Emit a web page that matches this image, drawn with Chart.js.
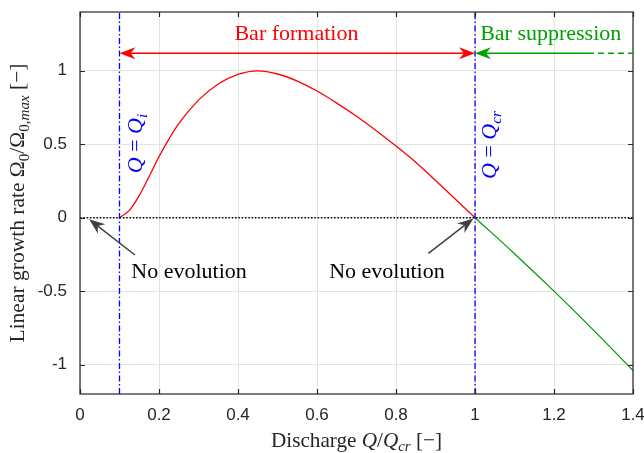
<!DOCTYPE html>
<html><head><meta charset="utf-8">
<script src="https://cdn.jsdelivr.net/npm/chart.js@4"></script>
<style>html,body{margin:0;padding:0;background:#fff}canvas{display:block}</style>
</head><body>
<canvas id="c" width="644" height="453"></canvas>
<script>
// ---- data ----
const formationX = [0.10, 0.125, 0.15, 0.175, 0.20, 0.225, 0.25, 0.30, 0.35, 0.40, 0.45, 0.50, 0.55, 0.60, 0.65, 0.70, 0.75, 0.80, 0.85, 0.90, 0.95, 1.00];
const formationY = [0.00, 0.05, 0.15, 0.28, 0.415, 0.535, 0.64, 0.80, 0.91, 0.975, 0.999, 0.978, 0.93, 0.862, 0.78, 0.69, 0.592, 0.488, 0.378, 0.253, 0.127, 0.00];
const suppressionX = [1.0, 1.1, 1.2, 1.3, 1.4];
const suppressionY = [0.0, -0.245, -0.5, -0.765, -1.04];
const zeroLineX = [0, 1.4];
const zeroLineY = [0, 0];
const xTicks = [0, 0.2, 0.4, 0.6, 0.8, 1.0, 1.2, 1.4];
const xTickLabels = ['0', '0.2', '0.4', '0.6', '0.8', '1', '1.2', '1.4'];
const yTicks = [-1, -0.5, 0, 0.5, 1];
const yTickLabels = ['-1', '-0.5', '0', '0.5', '1'];
const xRange = [0, 1.4];
const yRange = [-1.2, 1.4];
const Qi = 0.1;
const Qcr = 1.0;
const rangeArrowY = 1.12;
const suppressionDashStart = 1.286;
const noEvolutionArrows = [
  { tail: [0.139, -0.254], tip: [0.023, -0.01] },
  { tail: [0.882, -0.243], tip: [0.996, -0.005] }
];
const noEvolutionLabels = [[0.276, -0.41], [0.777, -0.41]];
const barFormationLabel = [0.548, 1.207];
const barSuppressionLabel = [1.013, 1.207];
const qiLabel = [0.158, 0.505];
const qcrLabel = [1.053, 0.495];

// ---- styling ----
const SERIF = '"Liberation Serif", "Times New Roman", serif';
const SANS = '"Liberation Sans", Arial, Helvetica, sans-serif';
const AX = '#262626';
const RED = '#ff0000', GREEN = '#00a000', BLUE = '#0000ff', GRAY = '#404040';

const xy = (xs, ys) => xs.map((x, i) => ({ x: x, y: ys[i] }));

function drawRich(ctx, segs, x, y, size, color, align) {
  const fontOf = s => (s.it ? 'italic ' : '') + (s.sub ? size * 0.7 : size) + 'px ' + SERIF;
  let total = 0;
  segs.forEach(s => { ctx.font = fontOf(s); total += ctx.measureText(s.t).width; });
  let cx = align === 'center' ? x - total / 2 : x;
  ctx.fillStyle = color;
  ctx.textBaseline = 'alphabetic';
  ctx.textAlign = 'left';
  segs.forEach(s => {
    ctx.font = fontOf(s);
    ctx.fillText(s.t, cx, y + (s.sub ? size * 0.22 : 0));
    cx += ctx.measureText(s.t).width;
  });
}

function arrowHead(ctx, tx, ty, fx, fy, color) {
  const L = 16, W = 12, N = 11;
  const dx = tx - fx, dy = ty - fy, d = Math.hypot(dx, dy);
  const ux = dx / d, uy = dy / d, px = -uy, py = ux;
  ctx.beginPath();
  ctx.moveTo(tx, ty);
  ctx.lineTo(tx - ux * L + px * W / 2, ty - uy * L + py * W / 2);
  ctx.lineTo(tx - ux * N, ty - uy * N);
  ctx.lineTo(tx - ux * L - px * W / 2, ty - uy * L - py * W / 2);
  ctx.closePath();
  ctx.fillStyle = color;
  ctx.fill();
}

const overlay = {
  id: 'overlay',
  afterDatasetsDraw(chart) {
    const ctx = chart.ctx, xs = chart.scales.x, ys = chart.scales.y, a = chart.chartArea;
    const X = v => xs.getPixelForValue(v), Y = v => ys.getPixelForValue(v);
    ctx.save();
    // box + inward ticks
    ctx.strokeStyle = AX; ctx.lineWidth = 1.2;
    ctx.strokeRect(a.left, a.top, a.right - a.left, a.bottom - a.top);
    ctx.beginPath();
    xTicks.forEach(v => { const p = Math.round(X(v)) + 0.5; ctx.moveTo(p, a.bottom); ctx.lineTo(p, a.bottom - 5); ctx.moveTo(p, a.top); ctx.lineTo(p, a.top + 5); });
    yTicks.forEach(v => { const p = Math.round(Y(v)) + 0.5; ctx.moveTo(a.left, p); ctx.lineTo(a.left + 5, p); ctx.moveTo(a.right, p); ctx.lineTo(a.right - 5, p); });
    ctx.stroke();

    // Bar formation double arrow
    const ay = Y(rangeArrowY);
    ctx.strokeStyle = RED; ctx.lineWidth = 1.5;
    ctx.beginPath(); ctx.moveTo(X(Qi) + 10, ay); ctx.lineTo(X(Qcr) - 10, ay); ctx.stroke();
    arrowHead(ctx, X(Qi), ay, X(Qcr), ay, RED);
    arrowHead(ctx, X(Qcr), ay, X(Qi), ay, RED);
    // Bar suppression arrow
    ctx.strokeStyle = GREEN;
    ctx.beginPath(); ctx.moveTo(X(Qcr) + 10, ay); ctx.lineTo(X(suppressionDashStart), ay); ctx.stroke();
    ctx.setLineDash([6, 4]);
    ctx.beginPath(); ctx.moveTo(X(suppressionDashStart), ay); ctx.lineTo(X(xRange[1]), ay); ctx.stroke();
    ctx.setLineDash([]);
    arrowHead(ctx, X(Qcr), ay, X(xRange[1]), ay, GREEN);

    // No evolution arrows
    noEvolutionArrows.forEach(ar => {
      const tx = X(ar.tip[0]), ty = Y(ar.tip[1]), fx = X(ar.tail[0]), fy = Y(ar.tail[1]);
      const d = Math.hypot(tx - fx, ty - fy);
      ctx.strokeStyle = GRAY; ctx.lineWidth = 1.5;
      ctx.beginPath(); ctx.moveTo(fx, fy); ctx.lineTo(tx - (tx - fx) / d * 10, ty - (ty - fy) / d * 10); ctx.stroke();
      arrowHead(ctx, tx, ty, fx, fy, GRAY);
    });

    // texts
    noEvolutionLabels.forEach(p => drawRich(ctx, [{ t: 'No evolution' }], X(p[0]), Y(p[1]), 22, '#000', 'center'));
    drawRich(ctx, [{ t: 'Bar formation' }], X(barFormationLabel[0]), Y(barFormationLabel[1]), 22, RED, 'center');
    drawRich(ctx, [{ t: 'Bar suppression' }], X(barSuppressionLabel[0]), Y(barSuppressionLabel[1]), 22, GREEN, 'left');

    // rotated Q labels
    [[qiLabel, [{ t: 'Q', it: 1 }, { t: ' = ' }, { t: 'Q', it: 1 }, { t: 'i', it: 1, sub: 1 }]],
     [qcrLabel, [{ t: 'Q', it: 1 }, { t: ' = ' }, { t: 'Q', it: 1 }, { t: 'cr', it: 1, sub: 1 }]]].forEach(([p, segs]) => {
      ctx.save();
      ctx.translate(X(p[0]), Y(p[1]));
      ctx.rotate(-Math.PI / 2);
      drawRich(ctx, segs, 0, 0, 22, BLUE, 'center');
      ctx.restore();
    });

    // axis titles
    drawRich(ctx, [{ t: 'Discharge ' }, { t: 'Q', it: 1 }, { t: '/' }, { t: 'Q', it: 1 }, { t: 'cr', it: 1, sub: 1 }, { t: ' [\u2212]' }],
      (a.left + a.right) / 2, 446.5, 21.2, AX, 'center');
    ctx.save();
    ctx.translate(24, (a.top + a.bottom) / 2);
    ctx.rotate(-Math.PI / 2);
    drawRich(ctx, [{ t: 'Linear growth rate \u03A9' }, { t: '0', sub: 1 }, { t: '/\u03A9' }, { t: '0,', sub: 1 }, { t: 'max', it: 1, sub: 1 }, { t: ' [\u2212]' }],
      0, 0, 21.5, AX, 'center');
    ctx.restore();
    ctx.restore();
  }
};

new Chart(document.getElementById('c'), {
  type: 'scatter',
  data: {
    datasets: [
      { data: xy([Qi, Qi], yRange), showLine: true, borderColor: BLUE, borderWidth: 1.3, borderDash: [6, 2.5, 1.5, 2.5], pointRadius: 0, order: 0 },
      { data: xy([Qcr, Qcr], yRange), showLine: true, borderColor: BLUE, borderWidth: 1.3, borderDash: [6, 2.5, 1.5, 2.5], pointRadius: 0, order: 0 },
      { data: xy(zeroLineX, zeroLineY), showLine: true, borderColor: '#000', borderWidth: 1.5, borderDash: [1.5, 1.8], pointRadius: 0, order: 1 },
      { data: xy(formationX, formationY), showLine: true, borderColor: RED, borderWidth: 1.3, pointRadius: 0, cubicInterpolationMode: 'monotone', order: 2 },
      { data: xy(suppressionX, suppressionY), showLine: true, borderColor: GREEN, borderWidth: 1.3, pointRadius: 0, tension: 0.4, order: 2 }
    ]
  },
  options: {
    responsive: false,
    animation: false,
    events: [],
    layout: { padding: { left: 0, right: 11, top: 12, bottom: 0 } },
    plugins: { legend: { display: false }, tooltip: { enabled: false } },
    scales: {
      x: {
        type: 'linear', min: xRange[0], max: xRange[1],
        afterBuildTicks: s => { s.ticks = xTicks.map(v => ({ value: v })); },
        afterFit: s => { s.height = 59; s.paddingLeft = 0; s.paddingRight = 0; s.paddingTop = 0; s.paddingBottom = 0; },
        grid: { color: '#e3e3e3', drawTicks: false, lineWidth: 1 },
        border: { display: false },
        ticks: { padding: 11, color: AX, font: { family: SANS, size: 17 }, maxRotation: 0, autoSkip: false,
                 callback: (v, i) => xTickLabels[i] }
      },
      y: {
        type: 'linear', min: yRange[0], max: yRange[1],
        afterBuildTicks: s => { s.ticks = yTicks.map(v => ({ value: v })); },
        afterFit: s => { s.width = 80; s.paddingLeft = 0; s.paddingRight = 0; s.paddingTop = 0; s.paddingBottom = 0; },
        grid: { color: '#e3e3e3', drawTicks: false, lineWidth: 1 },
        border: { display: false },
        ticks: { padding: 13, color: AX, font: { family: SANS, size: 17 }, autoSkip: false,
                 callback: (v, i) => yTickLabels[i] }
      }
    }
  },
  plugins: [overlay]
});
</script>
</body></html>
